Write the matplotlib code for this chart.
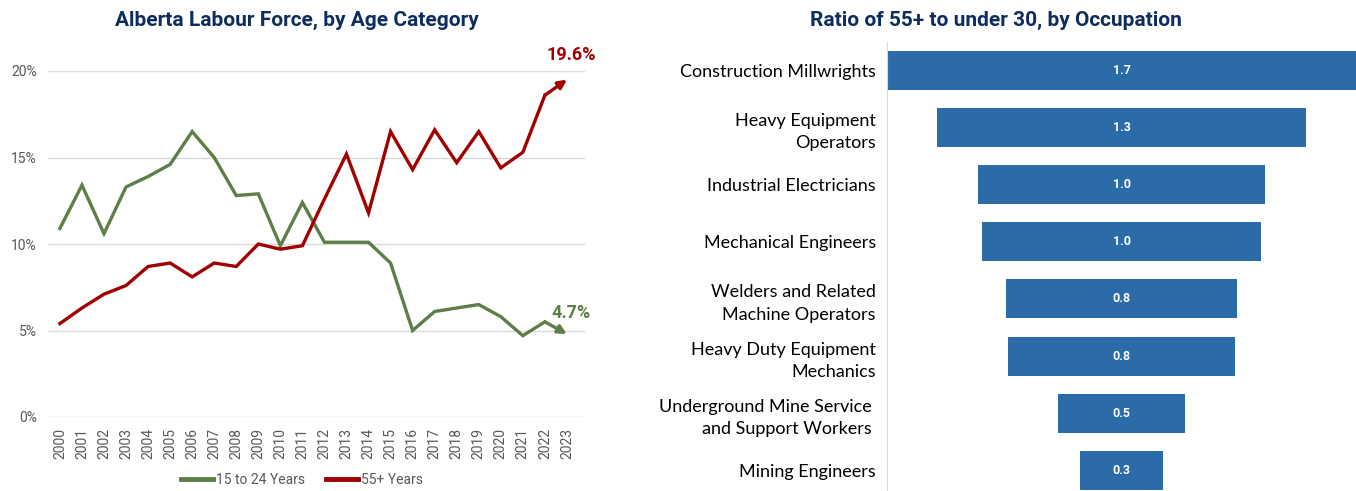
import numpy as np
import matplotlib.pyplot as plt
from matplotlib.ticker import FuncFormatter

# left chart data (% of labour force)
years = list(range(2000, 2024))
youth = [10.9, 13.4, 10.6, 13.3, 13.9, 14.6, 16.5, 15.0, 12.8, 12.9, 9.9, 12.4,
         10.1, 10.1, 10.1, 8.9, 5.0, 6.1, 6.3, 6.5, 5.8, 4.7, 5.5, 4.8]
older = [5.4, 6.3, 7.1, 7.6, 8.7, 8.9, 8.1, 8.9, 8.7, 10.0, 9.7, 9.9,
         12.6, 15.2, 11.8, 16.5, 14.3, 16.6, 14.7, 16.5, 14.4, 15.3, 18.6, 19.5]
youth_label = "4.7%"
older_label = "19.6%"

# right chart data (ratio 55+ to under 30)
occupations = ["Construction Millwrights", "Heavy Equipment\nOperators",
               "Industrial Electricians", "Mechanical Engineers",
               "Welders and Related\nMachine Operators",
               "Heavy Duty Equipment\nMechanics",
               "Underground Mine Service \nand Support Workers ",
               "Mining Engineers"]
ratios = [1.70, 1.34, 1.04, 1.01, 0.84, 0.82, 0.46, 0.30]

GREEN = "#5E7E47"
RED = "#A00000"
NAVY = "#0E2D5E"
BLUE = "#2A6BA8"
GRID = "#D9D9D9"
TXT = "#595959"

fig = plt.figure(figsize=(13.56, 4.91), dpi=100)

# ---- left: line chart
ax = fig.add_axes([48 / 1356, 1 - 417 / 491, 537 / 1356, 346 / 491])
ax.plot(years[:-1], youth[:-1], color=GREEN, lw=2.4, label="15 to 24 Years", solid_joinstyle="miter")
ax.plot(years[:-1], older[:-1], color=RED, lw=2.4, label="55+ Years", solid_joinstyle="miter")
for vals, c in [(youth, GREEN), (older, RED)]:
    ax.annotate("", xy=(years[-1], vals[-1]), xytext=(years[-2], vals[-2]),
                arrowprops=dict(arrowstyle="-|>,head_length=0.5,head_width=0.25",
                                color=c, lw=2.4, shrinkA=0, shrinkB=0),
                annotation_clip=False)
ax.text(years[-1] + 0.2, 20.9, older_label, color=RED, fontsize=13, fontweight="bold",
        ha="center", va="center", family="Roboto")
ax.text(years[-1] + 0.2, 6.0, youth_label, color=GREEN, fontsize=13, fontweight="bold",
        ha="center", va="center", family="Roboto")

ax.set_xlim(1999.46, 2023.82)
ax.set_ylim(0, 20)
ax.set_yticks([0, 5, 10, 15, 20])
ax.yaxis.set_major_formatter(FuncFormatter(lambda v, p: f"{v:.0f}%"))
ax.set_xticks(years)
ax.set_xticklabels([str(y) for y in years], rotation=90)
ax.grid(axis="y", color=GRID, lw=1)
ax.set_axisbelow(True)
for s in ax.spines.values():
    s.set_visible(False)
ax.tick_params(length=0, colors=TXT, labelsize=10, pad=8)
for lab in ax.get_xticklabels() + ax.get_yticklabels():
    lab.set_family("Roboto")
leg = fig.legend(*ax.get_legend_handles_labels(), loc="center",
                 bbox_to_anchor=(302 / 1356, 1 - 480 / 491), ncol=2, frameon=False,
                 handlelength=2.3, handletextpad=0.2, columnspacing=1.5,
                 prop={"family": "Roboto", "size": 10}, labelcolor=TXT)
for h in leg.get_lines():
    h.set_linewidth(3.5)
fig.text(297 / 1356, 1 - 20 / 491, "Alberta Labour Force, by Age Category", color=NAVY,
         fontsize=15, fontweight="bold", ha="center", va="center", family="Roboto")

# ---- right: funnel bars
ax2 = fig.add_axes([887 / 1356, 0, 469 / 1356, 1 - 41.6 / 491])
ypos = np.arange(len(ratios))
lefts = [-v / 2 for v in ratios]
ax2.barh(ypos, ratios, left=lefts, height=0.68, color=BLUE)
for y, v in zip(ypos, ratios):
    ax2.text(0, y, f"{v:.1f}", color="white", fontsize=9, fontweight="bold",
             ha="center", va="center", family="Roboto")
ax2.set_xlim(-0.85, 0.85)
ax2.set_ylim(7.36, -0.5)
ax2.set_yticks(ypos)
ax2.set_yticklabels(occupations, family="Lato", fontsize=13, linespacing=1.5)
ax2.set_xticks([])
ax2.tick_params(length=0, pad=8, colors="black")
for k in ["top", "right", "bottom"]:
    ax2.spines[k].set_visible(False)
ax2.spines["left"].set_color(GRID)
fig.text(996 / 1356, 1 - 20 / 491, "Ratio of 55+ to under 30, by Occupation", color=NAVY,
         fontsize=15, fontweight="bold", ha="center", va="center", family="Roboto")

fig.savefig("out.png", dpi=100)
